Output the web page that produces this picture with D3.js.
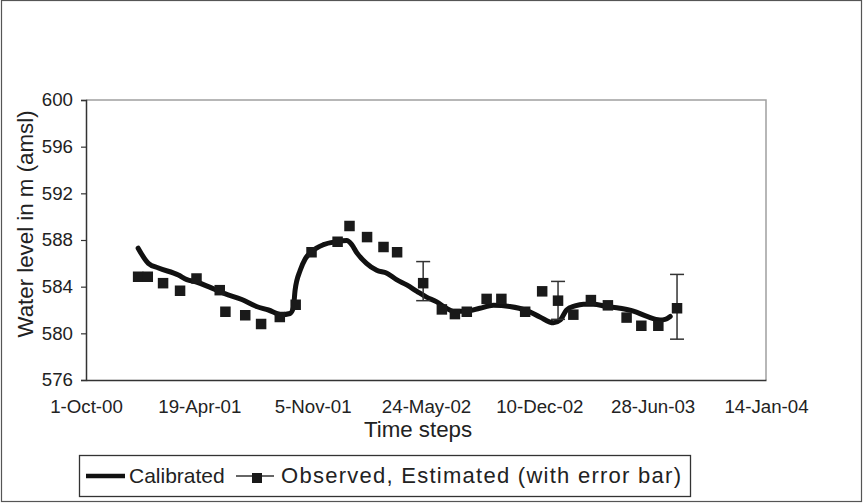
<!DOCTYPE html>
<html>
<head>
<meta charset="utf-8">
<script src="https://cdn.jsdelivr.net/npm/d3@7"></script>
<style>
  html, body { margin: 0; padding: 0; background: #fff; }
  svg { display: block; font-family: "Liberation Sans", Arial, sans-serif; }
</style>
</head>
<body>
<svg id="chart" width="863" height="503"></svg>
<script>
// Calibrated model water level (m amsl)
const calibratedDates = [
  "2001-01-01","2001-01-19","2001-02-06","2001-03-13","2001-03-28","2001-04-14",
  "2001-05-05","2001-06-03","2001-07-03","2001-07-29","2001-08-19","2001-09-11",
  "2001-09-26","2001-10-02","2001-10-05","2001-10-14","2001-10-23","2001-11-03",
  "2001-11-24","2001-12-17","2002-01-04","2002-01-13","2002-01-22","2002-02-08",
  "2002-02-26","2002-03-16","2002-04-02","2002-04-20","2002-05-08","2002-05-25",
  "2002-06-12","2002-06-29","2002-07-11","2002-08-04","2002-08-27","2002-09-20",
  "2002-10-19","2002-11-18","2002-12-11","2003-01-04","2003-01-16","2003-01-27",
  "2003-02-11","2003-02-26","2003-03-15","2003-04-08","2003-05-01","2003-05-25",
  "2003-06-18","2003-07-11","2003-07-20","2003-07-29"
];
const calibratedLevels = [
  587.3, 586.0, 585.6, 585.0, 584.6, 584.4,
  584.0, 583.4, 582.9, 582.3, 582.0, 581.6,
  581.7, 582.2, 583.7, 585.4, 586.4, 587.0,
  587.6, 587.85, 587.95, 587.6, 586.9, 586.0,
  585.4, 585.15, 584.6, 584.15, 583.6, 583.1,
  582.7, 582.15, 581.9, 581.9, 582.15, 582.4,
  582.3, 581.95, 581.4, 580.9, 581.15, 582.0,
  582.35, 582.5, 582.5, 582.3, 582.15, 581.9,
  581.45, 581.15, 581.2, 581.45
];

// Observed / estimated water level (m amsl)
const observedDates = [
  "2001-01-01","2001-01-18","2001-02-14","2001-03-16","2001-04-14","2001-05-25",
  "2001-06-04","2001-07-09","2001-08-06","2001-09-08","2001-10-06","2001-11-03",
  "2001-12-19","2002-01-09","2002-02-09","2002-03-10","2002-04-03","2002-05-19",
  "2002-06-21","2002-07-14","2002-08-04","2002-09-08","2002-10-04","2002-11-15",
  "2002-12-15","2003-01-12","2003-02-08","2003-03-11","2003-04-10","2003-05-13",
  "2003-06-08","2003-07-08","2003-08-10"
];
const observedLevels = [
  584.85, 584.85, 584.3, 583.65, 584.7, 583.7,
  581.85, 581.55, 580.8, 581.4, 582.45, 586.95,
  587.85, 589.2, 588.25, 587.4, 586.95, 584.3,
  582.05, 581.65, 581.85, 582.95, 582.95, 581.85,
  583.6, 582.8, 581.6, 582.85, 582.4, 581.35,
  580.65, 580.65, 582.15
];

// Error bars on the estimated values
const errorDates = ["2002-05-19", "2003-01-12", "2003-08-10"];
const errorLow   = [582.8, 581.2, 579.5];
const errorHigh  = [586.15, 584.45, 585.05];

// Axis settings
const yTickValues = [576, 580, 584, 588, 592, 596, 600];
const xTickDates = ["2000-10-01","2001-04-19","2001-11-05","2002-05-24",
                    "2002-12-10","2003-06-28","2004-01-14"];
const xTitle = "Time steps";
const yTitle = "Water level in m (amsl)";
const legendLabels = ["Calibrated", "Observed, Estimated (with error bar)"];

const parse = d3.utcParse("%Y-%m-%d");
const fmt = d3.utcFormat("%-d-%b-%y");

const svg = d3.select("#chart");
const W = 863, H = 503;
const plot = { left: 86, right: 766, top: 100, bottom: 380 };

// Outer chart border
svg.append("rect")
  .attr("x", 1.5).attr("y", 0.5).attr("width", W - 3).attr("height", H - 2)
  .attr("fill", "#fff").attr("stroke", "#555").attr("stroke-width", 1.2);

const x = d3.scaleUtc()
  .domain([parse(xTickDates[0]), parse(xTickDates[xTickDates.length - 1])])
  .range([plot.left, plot.right]);
const y = d3.scaleLinear().domain([576, 600]).range([plot.bottom, plot.top]);

// Plot frame: top and right in light grey
svg.append("path")
  .attr("d", `M${plot.left},${plot.top}H${plot.right}V${plot.bottom}`)
  .attr("fill", "none").attr("stroke", "#a0a0a0").attr("stroke-width", 1.5);

// Y axis
const yAxis = svg.append("g")
  .attr("transform", `translate(${plot.left},0)`)
  .call(d3.axisLeft(y).tickValues(yTickValues).tickSize(5).tickPadding(8).tickFormat(d3.format("d")));
yAxis.select(".domain").attr("stroke", "#333").attr("stroke-width", 1.5);
yAxis.selectAll(".tick line").attr("stroke", "#333").attr("stroke-width", 1.2);
yAxis.selectAll(".tick text")
  .attr("fill", "#222").attr("font-size", "18.7px")
  .attr("font-family", "'Liberation Sans', Arial, sans-serif");

// X axis
const xAxis = svg.append("g")
  .attr("transform", `translate(0,${plot.bottom})`)
  .call(d3.axisBottom(x).tickValues(xTickDates.map(parse)).tickSize(0).tickPadding(20).tickFormat(fmt));
xAxis.select(".domain").attr("stroke", "#333").attr("stroke-width", 1.5);
xAxis.selectAll(".tick text")
  .attr("fill", "#222").attr("font-size", "18.7px")
  .attr("font-family", "'Liberation Sans', Arial, sans-serif");

// Axis titles
svg.append("text")
  .attr("x", 418).attr("y", 437)
  .attr("text-anchor", "middle").attr("font-size", "22.3px").attr("fill", "#222")
  .text(xTitle);
svg.append("text")
  .attr("transform", "translate(33,224) rotate(-90)")
  .attr("text-anchor", "middle").attr("font-size", "22.3px").attr("fill", "#222")
  .text(yTitle);

// Calibrated line
const calib = calibratedDates.map((d, i) => ({ date: parse(d), v: calibratedLevels[i] }));
svg.append("path")
  .datum(calib)
  .attr("fill", "none").attr("stroke", "#111").attr("stroke-width", 5)
  .attr("stroke-linejoin", "round").attr("stroke-linecap", "round")
  .attr("d", d3.line().x(d => x(d.date)).y(d => y(d.v)).curve(d3.curveMonotoneX));

// Error bars
const errs = errorDates.map((d, i) => ({ date: parse(d), lo: errorLow[i], hi: errorHigh[i] }));
const eg = svg.append("g").attr("stroke", "#333").attr("stroke-width", 1.5);
errs.forEach(e => {
  const cx = x(e.date);
  eg.append("line").attr("x1", cx).attr("x2", cx).attr("y1", y(e.hi)).attr("y2", y(e.lo));
  eg.append("line").attr("x1", cx - 7).attr("x2", cx + 7).attr("y1", y(e.hi)).attr("y2", y(e.hi));
  eg.append("line").attr("x1", cx - 7).attr("x2", cx + 7).attr("y1", y(e.lo)).attr("y2", y(e.lo));
});

// Observed markers
const obs = observedDates.map((d, i) => ({ date: parse(d), v: observedLevels[i] }));
const ms = 10.5;
svg.append("g").selectAll("rect").data(obs).join("rect")
  .attr("x", d => x(d.date) - ms / 2).attr("y", d => y(d.v) - ms / 2)
  .attr("width", ms).attr("height", ms).attr("fill", "#1a1a1a");

// Legend
const lg = svg.append("g");
lg.append("rect").attr("x", 79.5).attr("y", 455.5).attr("width", 611).attr("height", 41)
  .attr("fill", "#fff").attr("stroke", "#333").attr("stroke-width", 1.3);
lg.append("line").attr("x1", 86).attr("x2", 125).attr("y1", 476).attr("y2", 476)
  .attr("stroke", "#111").attr("stroke-width", 4.5);
lg.append("text").attr("x", 129).attr("y", 483).attr("font-size", "21px").attr("fill", "#222")
  .text(legendLabels[0]);
lg.append("line").attr("x1", 236).attr("x2", 274).attr("y1", 476).attr("y2", 476)
  .attr("stroke", "#333").attr("stroke-width", 1.3);
lg.append("rect").attr("x", 252).attr("y", 473).attr("width", 10).attr("height", 10)
  .attr("fill", "#1a1a1a");
lg.append("text").attr("x", 281).attr("y", 483).attr("font-size", "22px").attr("fill", "#222")
  .attr("textLength", 400).attr("lengthAdjust", "spacing")
  .text(legendLabels[1]);
</script>
</body>
</html>
